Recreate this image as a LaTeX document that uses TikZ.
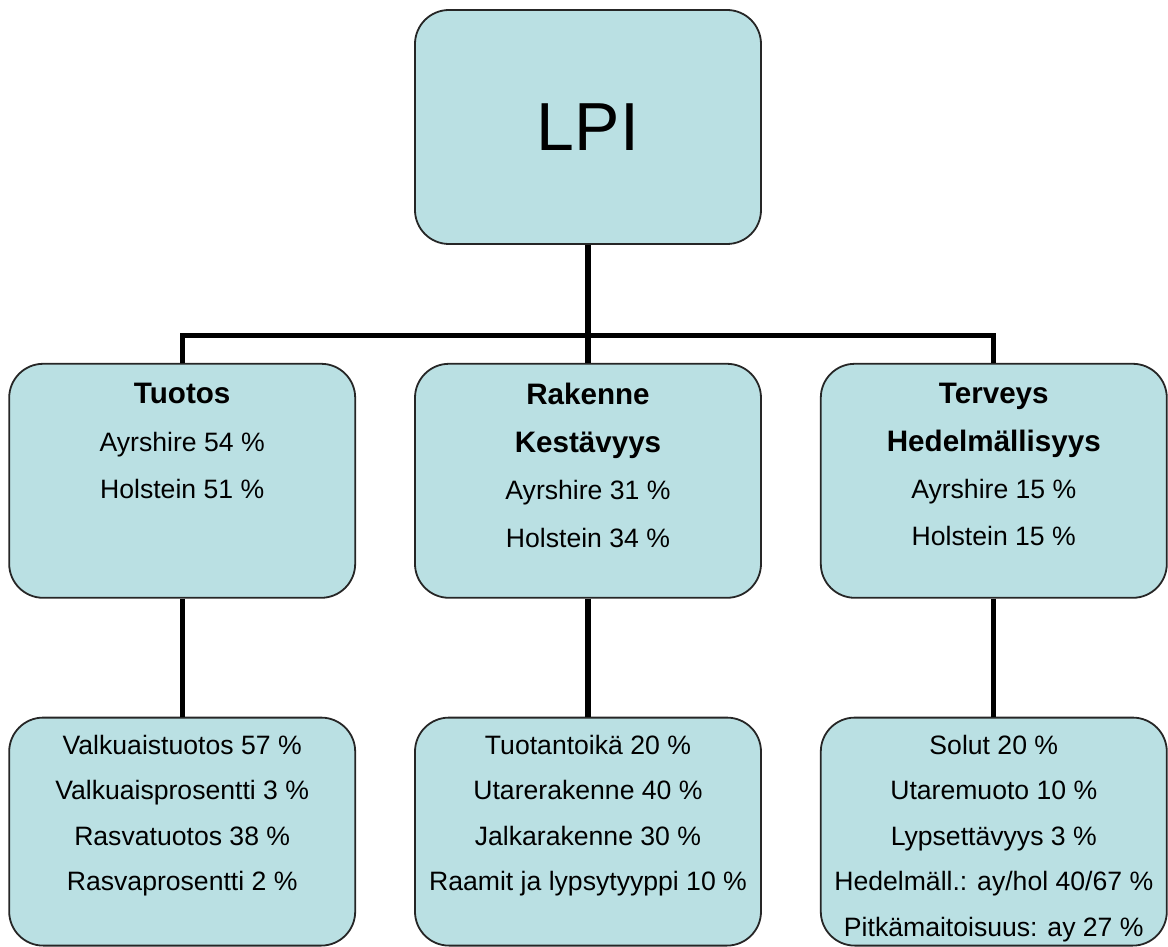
\documentclass[tikz,border=0pt]{standalone}
\usepackage{fontspec}
\setmainfont{Liberation Sans}
\usetikzlibrary{positioning,calc}

\definecolor{boxblue}{RGB}{186,224,227}
% box height, top gap, line spacing, lines
\newcommand{\boxlines}[4]{\parbox[c][#1][t]{170pt}{\centering\fontsize{13.3pt}{#3}\selectfont\vspace*{#2}#4}}
\newcommand{\boxtitle}[1]{{\fontsize{14.8pt}{18pt}\selectfont\bfseries #1}}

\begin{document}
\begin{tikzpicture}[
  node distance=59pt and 29pt,
  box/.style={rectangle, rounded corners=17pt, draw=black!85, line width=0.9pt, fill=boxblue, minimum width=173pt, minimum height=117pt, inner sep=0pt},
  leaf/.style={box, minimum height=114pt},
  link/.style={line width=2.6pt}
]
  \node[box, font=\fontsize{34pt}{40pt}\selectfont] (lpi) {LPI};
  \node[box, below=of lpi] (rakenne) {\boxlines{117pt}{9.8pt}{23.7pt}{\boxtitle{Rakenne}\\\boxtitle{Kestävyys}\\Ayrshire 31 \%\\Holstein 34 \%}};
  \node[box, left=of rakenne] (tuotos) {\boxlines{117pt}{9.8pt}{23.7pt}{\boxtitle{Tuotos}\\Ayrshire 54 \%\\Holstein 51 \%}};
  \node[box, right=of rakenne] (terveys) {\boxlines{117pt}{9.8pt}{23.7pt}{\boxtitle{Terveys}\\\boxtitle{Hedelmällisyys}\\Ayrshire 15 \%\\Holstein 15 \%}};
  \node[leaf, below=of tuotos] (valkuais) {\boxlines{114pt}{8.6pt}{22.8pt}{Valkuaistuotos 57 \%\\Valkuaisprosentti 3 \%\\Rasvatuotos 38 \%\\Rasvaprosentti 2 \%}};
  \node[leaf, below=of rakenne] (tuotantoika) {\boxlines{114pt}{8.6pt}{22.8pt}{Tuotantoikä 20 \%\\Utarerakenne 40 \%\\Jalkarakenne 30 \%\\Raamit ja lypsytyyppi 10 \%}};
  \node[leaf, below=of terveys] (solut) {\boxlines{114pt}{8.6pt}{22.8pt}{Solut 20 \%\\Utaremuoto 10 \%\\Lypsettävyys 3 \%\\Hedelmäll.: ay/hol 40/67 \%\\Pitkämaitoisuus: ay 27 \%}};

  \coordinate (split) at ($(lpi.south)!0.77!(rakenne.north)$);
  \draw[link] (lpi) -- (rakenne);
  \draw[link] (tuotos.north) |- (split) -| (terveys.north);
  \draw[link] (tuotos) -- (valkuais);
  \draw[link] (rakenne) -- (tuotantoika);
  \draw[link] (terveys) -- (solut);

  \useasboundingbox ($(lpi.center)+(-294pt,63.5pt)$) rectangle ($(lpi.center)+(290pt,-408pt)$);
\end{tikzpicture}
\end{document}
